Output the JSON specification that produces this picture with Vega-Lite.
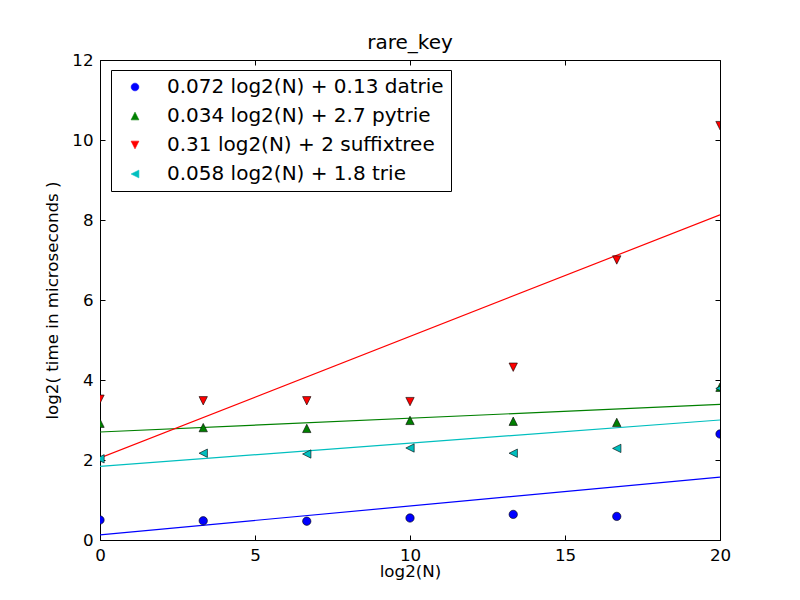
{
  "$schema": "https://vega.github.io/schema/vega-lite/v6.json",
  "width": 620,
  "height": 480,
  "autosize": {"type": "none"},
  "padding": {"left": 100, "top": 60, "right": 80, "bottom": 60},
  "background": "white",
  "title": {"text": "rare_key", "fontSize": 20, "fontWeight": "normal", "font": "DejaVu Sans", "offset": -1, "color": "black"},
  "datasets": {
    "points": [
      {"x": 0, "y": 0.5, "series": "datrie"},
      {"x": 3.33, "y": 0.48, "series": "datrie"},
      {"x": 6.67, "y": 0.47, "series": "datrie"},
      {"x": 10, "y": 0.55, "series": "datrie"},
      {"x": 13.33, "y": 0.64, "series": "datrie"},
      {"x": 16.67, "y": 0.59, "series": "datrie"},
      {"x": 20, "y": 2.65, "series": "datrie"},
      {"x": 0, "y": 2.92, "series": "pytrie"},
      {"x": 3.33, "y": 2.81, "series": "pytrie"},
      {"x": 6.67, "y": 2.79, "series": "pytrie"},
      {"x": 10, "y": 2.99, "series": "pytrie"},
      {"x": 13.33, "y": 2.97, "series": "pytrie"},
      {"x": 16.67, "y": 2.94, "series": "pytrie"},
      {"x": 20, "y": 3.82, "series": "pytrie"},
      {"x": 0, "y": 3.52, "series": "suffixtree"},
      {"x": 3.33, "y": 3.48, "series": "suffixtree"},
      {"x": 6.67, "y": 3.48, "series": "suffixtree"},
      {"x": 10, "y": 3.46, "series": "suffixtree"},
      {"x": 13.33, "y": 4.32, "series": "suffixtree"},
      {"x": 16.67, "y": 7.0, "series": "suffixtree"},
      {"x": 20, "y": 10.36, "series": "suffixtree"},
      {"x": 0, "y": 2.03, "series": "trie"},
      {"x": 3.33, "y": 2.17, "series": "trie"},
      {"x": 6.67, "y": 2.15, "series": "trie"},
      {"x": 10, "y": 2.3, "series": "trie"},
      {"x": 13.33, "y": 2.17, "series": "trie"},
      {"x": 16.67, "y": 2.29, "series": "trie"},
      {"x": 20, "y": 3.79, "series": "trie"}
    ],
    "fits": [
      {"x": 0, "y": 0.13, "series": "datrie"},
      {"x": 20, "y": 1.57, "series": "datrie"},
      {"x": 0, "y": 2.7, "series": "pytrie"},
      {"x": 20, "y": 3.39, "series": "pytrie"},
      {"x": 0, "y": 2.05, "series": "suffixtree"},
      {"x": 20, "y": 8.13, "series": "suffixtree"},
      {"x": 0, "y": 1.84, "series": "trie"},
      {"x": 20, "y": 3.0, "series": "trie"}
    ]
  },
  "config": {
    "view": {"stroke": "black", "strokeWidth": 1},
    "font": "DejaVu Sans",
    "axis": {
      "grid": false,
      "domainColor": "black",
      "tickColor": "black",
      "labelColor": "black",
      "titleColor": "black",
      "labelFont": "DejaVu Sans",
      "titleFont": "DejaVu Sans",
      "labelFontSize": 16.7,
      "titleFontSize": 16.7,
      "titleFontWeight": "normal",
      "tickSize": -5,
      "labelPadding": 12,
      "labelFlush": false,
      "labelOverlap": false
    }
  },
  "layer": [
    {
      "data": {"name": "fits"},
      "mark": {"type": "line", "strokeWidth": 1.2, "clip": true},
      "encoding": {
        "x": {"field": "x", "type": "quantitative", "scale": {"domain": [0, 20], "nice": false},
              "axis": {"orient": "bottom", "values": [0, 5, 10, 15, 20], "title": "log2(N)", "titlePadding": 0}},
        "y": {"field": "y", "type": "quantitative", "scale": {"domain": [0, 12], "nice": false, "zero": false},
              "axis": {"orient": "left", "values": [0, 2, 4, 6, 8, 10, 12], "title": "log2( time in microseconds )", "titlePadding": 10}},
        "color": {"field": "series", "type": "nominal",
                  "scale": {"domain": ["datrie", "pytrie", "suffixtree", "trie"], "range": ["#0000ff", "#008000", "#ff0000", "#00bfbf"]}},
        "detail": {"field": "series"}
      }
    },
    {
      "data": {"name": "points"},
      "mark": {"type": "point", "filled": true, "opacity": 1, "stroke": "black", "strokeWidth": 0.6, "size": 70, "clip": true},
      "encoding": {
        "x": {"field": "x", "type": "quantitative",
              "axis": {"orient": "top", "values": [0, 5, 10, 15, 20], "labels": false, "title": null, "domain": false}},
        "y": {"field": "y", "type": "quantitative",
              "axis": {"orient": "right", "values": [0, 2, 4, 6, 8, 10, 12], "labels": false, "title": null, "domain": false}},
        "color": {"field": "series", "type": "nominal",
                  "scale": {"domain": ["datrie", "pytrie", "suffixtree", "trie"], "range": ["#0000ff", "#008000", "#ff0000", "#00bfbf"]},
                  "legend": {
                    "orient": "none", "legendX": 11, "legendY": 10,
                    "title": null,
                    "labelFontSize": 20, "labelFont": "DejaVu Sans", "labelColor": "black", "labelLimit": 500,
                    "padding": 7, "strokeColor": "black", "fillColor": "white",
                    "rowPadding": 9, "symbolSize": 60, "symbolOffset": 7, "labelOffset": 22,
                    "symbolStrokeColor": "black", "symbolStrokeWidth": 0.6,
                    "labelExpr": "datum.label === 'datrie' ? '0.072 log2(N) + 0.13 datrie' : datum.label === 'pytrie' ? '0.034 log2(N) + 2.7 pytrie' : datum.label === 'suffixtree' ? '0.31 log2(N) + 2 suffixtree' : '0.058 log2(N) + 1.8 trie'"
                  }},
        "shape": {"field": "series", "type": "nominal",
                  "scale": {"domain": ["datrie", "pytrie", "suffixtree", "trie"],
                            "range": ["M-1,0A1,1,0,1,1,1,0A1,1,0,1,1,-1,0Z", "M0,-1L1,1L-1,1Z", "M0,1L-1,-1L1,-1Z", "M-1,0L1,-1L1,1Z"]}}
      }
    }
  ],
  "resolve": {"axis": {"x": "independent", "y": "independent"}}
}
